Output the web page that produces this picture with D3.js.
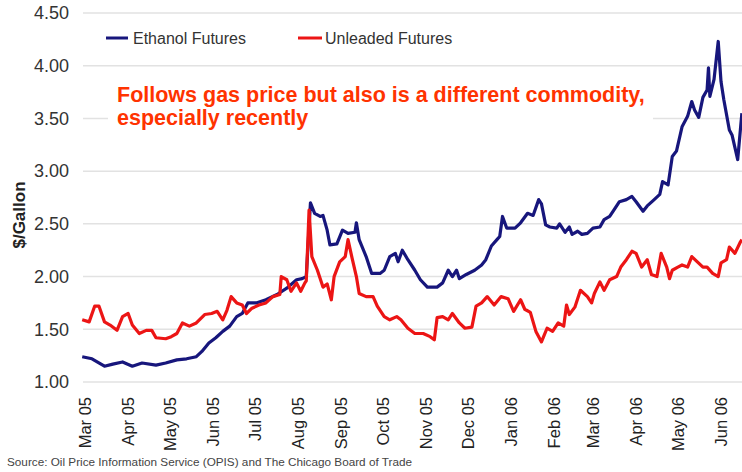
<!DOCTYPE html>
<html>
<head>
<meta charset="utf-8">
<script src="https://cdn.jsdelivr.net/npm/d3@7"></script>
<style>
	body { margin: 0; background: #fff; }
	svg { display: block; font-family: "Liberation Sans", Arial, sans-serif; }
</style>
</head>
<body>
<div id="chart"></div>
<script>
// values
const ethanolSeries = [
	["2005-02-27",1.24],["2005-03-06",1.22],["2005-03-15",1.15],["2005-03-21",1.17],["2005-03-28",1.19],
	["2005-04-04",1.15],["2005-04-11",1.18],["2005-04-21",1.16],["2005-04-28",1.18],["2005-05-06",1.21],
	["2005-05-13",1.22],["2005-05-20",1.24],["2005-05-24",1.29],["2005-05-29",1.37],["2005-06-03",1.42],
	["2005-06-08",1.48],["2005-06-13",1.53],["2005-06-18",1.62],["2005-06-22",1.65],["2005-06-26",1.75],
	["2005-07-02",1.75],["2005-07-09",1.78],["2005-07-17",1.83],["2005-07-24",1.89],["2005-07-31",1.97],
	["2005-08-04",1.98],["2005-08-07",2.00],["2005-08-10",2.70],["2005-08-13",2.60],["2005-08-17",2.57],
	["2005-08-19",2.58],["2005-08-22",2.44],["2005-08-24",2.30],["2005-08-29",2.31],["2005-09-02",2.44],
	["2005-09-06",2.41],["2005-09-11",2.42],["2005-09-12",2.51],["2005-09-14",2.35],["2005-09-19",2.19],
	["2005-09-23",2.03],["2005-09-29",2.03],["2005-10-02",2.06],["2005-10-06",2.19],["2005-10-10",2.22],
	["2005-10-12",2.14],["2005-10-15",2.25],["2005-10-19",2.16],["2005-10-24",2.06],["2005-10-28",1.97],
	["2005-11-02",1.90],["2005-11-09",1.90],["2005-11-13",1.94],["2005-11-17",2.06],["2005-11-20",2.00],
	["2005-11-23",2.06],["2005-11-25",1.98],["2005-11-30",2.02],["2005-12-06",2.06],["2005-12-11",2.11],
	["2005-12-14",2.16],["2005-12-18",2.29],["2005-12-22",2.35],["2005-12-24",2.38],["2005-12-26",2.57],
	["2005-12-29",2.46],["2006-01-04",2.46],["2006-01-08",2.51],["2006-01-13",2.60],["2006-01-17",2.58],
	["2006-01-21",2.73],["2006-01-23",2.69],["2006-01-26",2.49],["2006-01-29",2.47],["2006-02-03",2.46],
	["2006-02-05",2.50],["2006-02-09",2.42],["2006-02-12",2.47],["2006-02-14",2.40],["2006-02-18",2.43],
	["2006-02-21",2.40],["2006-02-25",2.41],["2006-03-01",2.46],["2006-03-06",2.47],["2006-03-09",2.54],
	["2006-03-13",2.57],["2006-03-16",2.63],["2006-03-20",2.71],["2006-03-25",2.73],["2006-03-29",2.76],
	["2006-04-01",2.71],["2006-04-06",2.62],["2006-04-09",2.67],["2006-04-14",2.73],["2006-04-18",2.78],
	["2006-04-20",2.90],["2006-04-24",2.87],["2006-04-27",3.14],["2006-04-30",3.19],["2006-05-04",3.42],
	["2006-05-08",3.52],["2006-05-11",3.66],["2006-05-13",3.58],["2006-05-16",3.51],["2006-05-19",3.70],
	["2006-05-22",3.77],["2006-05-23",3.98],["2006-05-24",3.71],["2006-05-27",3.87],["2006-05-30",4.23],
	["2006-06-01",3.85],["2006-06-03",3.68],["2006-06-07",3.39],["2006-06-09",3.34],["2006-06-13",3.11],
	["2006-06-16",3.55]
];

const unleadedSeries = [
	["2005-02-27",1.59],["2005-03-04",1.57],["2005-03-08",1.72],["2005-03-11",1.72],["2005-03-15",1.57],
	["2005-03-19",1.54],["2005-03-24",1.49],["2005-03-28",1.62],["2005-04-01",1.65],["2005-04-04",1.54],
	["2005-04-09",1.46],["2005-04-14",1.49],["2005-04-18",1.49],["2005-04-21",1.42],["2005-04-28",1.41],
	["2005-05-02",1.43],["2005-05-06",1.46],["2005-05-10",1.56],["2005-05-15",1.53],["2005-05-20",1.56],
	["2005-05-26",1.64],["2005-05-31",1.65],["2005-06-04",1.67],["2005-06-08",1.59],["2005-06-11",1.68],
	["2005-06-14",1.81],["2005-06-18",1.75],["2005-06-22",1.73],["2005-06-25",1.65],["2005-06-29",1.70],
	["2005-07-04",1.73],["2005-07-09",1.75],["2005-07-14",1.81],["2005-07-19",1.83],["2005-07-20",2.00],
	["2005-07-24",1.97],["2005-07-27",1.86],["2005-07-31",1.94],["2005-08-03",1.86],["2005-08-06",1.94],
	["2005-08-07",1.96],["2005-08-09",2.63],["2005-08-11",2.19],["2005-08-15",2.06],["2005-08-19",1.90],
	["2005-08-22",1.93],["2005-08-25",1.78],["2005-08-27",2.00],["2005-08-31",2.14],["2005-09-04",2.19],
	["2005-09-06",2.35],["2005-09-09",2.17],["2005-09-12",2.00],["2005-09-14",1.84],["2005-09-19",1.81],
	["2005-09-24",1.81],["2005-09-27",1.72],["2005-10-02",1.62],["2005-10-06",1.59],["2005-10-11",1.62],
	["2005-10-14",1.59],["2005-10-19",1.51],["2005-10-24",1.46],["2005-10-30",1.46],["2005-11-04",1.43],
	["2005-11-07",1.40],["2005-11-09",1.61],["2005-11-13",1.62],["2005-11-17",1.59],["2005-11-20",1.65],
	["2005-11-25",1.56],["2005-11-29",1.51],["2005-12-04",1.52],["2005-12-07",1.72],["2005-12-11",1.75],
	["2005-12-15",1.81],["2005-12-20",1.73],["2005-12-25",1.81],["2005-12-30",1.79],["2006-01-03",1.67],
	["2006-01-08",1.78],["2006-01-11",1.69],["2006-01-15",1.66],["2006-01-19",1.48],["2006-01-23",1.38],
	["2006-01-27",1.51],["2006-01-31",1.48],["2006-02-04",1.56],["2006-02-08",1.53],["2006-02-10",1.73],
	["2006-02-12",1.64],["2006-02-16",1.71],["2006-02-20",1.87],["2006-02-25",1.81],["2006-02-28",1.75],
	["2006-03-02",1.84],["2006-03-06",1.95],["2006-03-09",1.87],["2006-03-13",1.97],["2006-03-18",2.00],
	["2006-03-21",2.09],["2006-03-25",2.16],["2006-03-29",2.24],["2006-04-01",2.22],["2006-04-05",2.09],
	["2006-04-09",2.16],["2006-04-12",2.02],["2006-04-16",2.00],["2006-04-19",2.22],["2006-04-23",2.09],
	["2006-04-25",1.98],["2006-04-27",2.06],["2006-05-01",2.09],["2006-05-04",2.11],["2006-05-08",2.09],
	["2006-05-11",2.19],["2006-05-15",2.14],["2006-05-19",2.09],["2006-05-22",2.09],["2006-05-26",2.03],
	["2006-05-30",2.00],["2006-06-01",2.13],["2006-06-05",2.16],["2006-06-07",2.28],["2006-06-11",2.22],
	["2006-06-15",2.33],["2006-06-16",2.35]
];

const monthTicks = ["2005-03-01","2005-04-01","2005-05-01","2005-06-01","2005-07-01","2005-08-01",
	"2005-09-01","2005-10-01","2005-11-01","2005-12-01","2006-01-01","2006-02-01","2006-03-01",
	"2006-04-01","2006-05-01","2006-06-01"];
const tickLabels = ["Mar 05","Apr 05","May 05","Jun 05","Jul 05","Aug 05","Sep 05","Oct 05",
	"Nov 05","Dec 05","Jan 06","Feb 06","Mar 06","Apr 06","May 06","Jun 06"];
const yTicks = [1.0, 1.5, 2.0, 2.5, 3.0, 3.5, 4.0, 4.5];

const seriesNames = ["Ethanol Futures", "Unleaded Futures"];
const seriesColors = ["#17167c", "#ec1515"];
const noteLines = ["Follows gas price but also is a different commodity,", "especially recently"];
const sourceText = "Source: Oil Price Information Service (OPIS) and The Chicago Board of Trade";

const width = 742, height = 472;
const parse = d3.timeParse("%Y-%m-%d");

let svg = d3.select("#chart").append("svg")
	.attr("width", width).attr("height", height);

let x = d3.scaleTime()
	.domain([parse("2005-03-01"), parse("2006-06-01")])
	.range([85, 721]);
let y = d3.scaleLinear().domain([1, 4.5]).range([382, 13]);

// gridlines
svg.append("g").selectAll("line")
	.data(yTicks).enter().append("line")
	.attr("x1", 83).attr("x2", width)
	.attr("y1", d => y(d)).attr("y2", d => y(d))
	.attr("stroke", "#e2e2e2").attr("stroke-width", 1.5);

// y tick labels
let yAxis = svg.append("g").attr("transform", "translate(69,0)")
	.call(d3.axisLeft(y).tickValues(yTicks).tickFormat(d3.format(".2f")).tickSize(0).tickPadding(0));
yAxis.select(".domain").remove();
yAxis.selectAll("text")
	.attr("font-size", 18).attr("fill", "#333")
	.attr("font-family", "Liberation Sans, Arial, sans-serif");

// x tick labels (rotated)
svg.append("g").selectAll("text")
	.data(monthTicks).enter().append("text")
	.attr("transform", d => "translate(" + x(parse(d)) + ",397) rotate(-90)")
	.attr("text-anchor", "end").attr("dy", "0.36em")
	.attr("font-size", 16.5).attr("fill", "#222")
	.text((d, i) => tickLabels[i]);

// y axis title
svg.append("text")
	.attr("transform", "translate(19,215) rotate(-90)")
	.attr("text-anchor", "middle").attr("dy", "0.36em")
	.attr("font-size", 17).attr("font-weight", "bold").attr("fill", "#222")
	.text("$/Gallon");

// lines
let line = d3.line()
	.x(d => x(parse(d[0])))
	.y(d => y(d[1]));

[ethanolSeries, unleadedSeries].forEach(function (s, i) {
	svg.append("path")
		.datum(s)
		.attr("d", line)
		.attr("fill", "none")
		.attr("stroke", seriesColors[i])
		.attr("stroke-width", 3.2)
		.attr("stroke-linejoin", "round");
});

// legend
let legend = svg.append("g").selectAll("g")
	.data(seriesNames).enter().append("g")
	.attr("transform", (d, i) => "translate(" + [106, 298][i] + ",38)");
legend.append("line")
	.attr("x1", 0).attr("x2", (d, i) => [22, 24][i])
	.attr("stroke", (d, i) => seriesColors[i]).attr("stroke-width", 3);
legend.append("text")
	.attr("x", 27).attr("y", 6)
	.attr("font-size", 16).attr("fill", "#333")
	.text(d => d);

// annotation box
svg.append("rect")
	.attr("x", 108).attr("y", 78).attr("width", 545).attr("height", 56)
	.attr("fill", "#fff");
svg.append("g").selectAll("text")
	.data(noteLines).enter().append("text")
	.attr("x", 117).attr("y", (d, i) => 102 + i * 23)
	.attr("font-size", 21.5).attr("font-weight", "bold").attr("fill", "#ff3300")
	.text(d => d);

// source
svg.append("text")
	.attr("x", 7).attr("y", 466)
	.attr("font-size", 11.5).attr("fill", "#444")
	.attr("textLength", 405).attr("lengthAdjust", "spacingAndGlyphs")
	.text(sourceText);
</script>
</body>
</html>
